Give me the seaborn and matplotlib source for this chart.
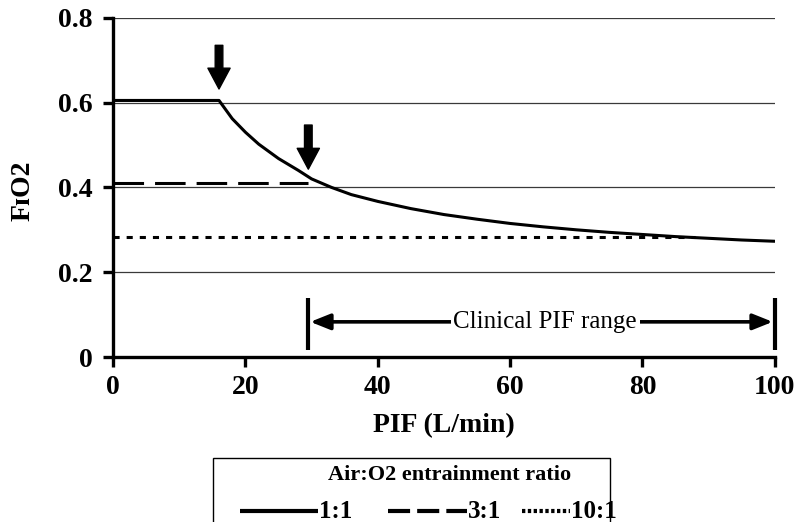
import matplotlib
matplotlib.use("Agg")
import matplotlib.pyplot as plt
from matplotlib.patches import Rectangle
from matplotlib.lines import Line2D
import seaborn as sns

# --- data ---
pif_1to1 = [0, 16, 18, 20, 22, 25, 28, 30, 33, 36, 40, 45, 50, 55, 60, 65, 70, 75, 80, 85, 90, 95, 100]
fio2_1to1 = [0.605, 0.605, 0.562, 0.530, 0.502, 0.468, 0.440, 0.420, 0.400, 0.383, 0.367, 0.350, 0.336, 0.325, 0.315, 0.307, 0.300, 0.294, 0.289, 0.284, 0.280, 0.276, 0.273]
pif_3to1 = [0, 29.5]
fio2_3to1 = [0.41, 0.41]
pif_10to1 = [0, 88]
fio2_10to1 = [0.282, 0.282]
series_labels = ["1:1", "3:1", "10:1"]

arrow_x = [16, 29.5]
arrow_top = [0.735, 0.547]
arrow_bottom = [0.632, 0.443]
clinical_range = [29.5, 100]

sns.set_theme(style="white")
plt.rcParams["font.family"] = ["Liberation Serif", "DejaVu Serif"]
plt.rcParams["text.color"] = "black"
plt.rcParams["axes.labelcolor"] = "black"
plt.rcParams["xtick.color"] = "black"
plt.rcParams["ytick.color"] = "black"

W, H = 797, 522
fig = plt.figure(figsize=(W / 100, H / 100), dpi=100)
ax = fig.add_axes([0.142, 0.316, 0.830, 0.650])

lw = 2.2
sns.lineplot(x=pif_1to1, y=fio2_1to1, ax=ax, color="black", lw=lw, sort=False)
sns.lineplot(x=pif_3to1, y=fio2_3to1, ax=ax, color="black", lw=lw, linestyle=(0, (10, 3.6)))
sns.lineplot(x=pif_10to1, y=fio2_10to1, ax=ax, color="black", lw=lw, linestyle=(0, (2, 2.3)))

ax.set_xlim(0, 100)
ax.set_ylim(0, 0.8)
ax.set_xticks([0, 20, 40, 60, 80, 100])
ax.set_yticks([0, 0.2, 0.4, 0.6, 0.8])
ax.set_yticklabels(["0", "0.2", "0.4", "0.6", "0.8"])
for yv in [0.2, 0.4, 0.6, 0.8]:
    ax.axhline(yv, color="#3a3a3a", lw=0.9, zorder=0)

for side in ["top", "right"]:
    ax.spines[side].set_visible(False)
for side in ["left", "bottom"]:
    ax.spines[side].set_color("black")
    ax.spines[side].set_linewidth(2.4)
ax.tick_params(axis="both", direction="out", length=7, width=2.4, color="black",
               labelsize=20, left=True, bottom=True)
ax.tick_params(axis="x", pad=6)
ax.tick_params(axis="y", pad=8)
for t in ax.get_xticklabels() + ax.get_yticklabels():
    t.set_fontweight("bold")

ax.set_xlabel("PIF (L/min)", fontsize=20, fontweight="bold")
ax.xaxis.set_label_coords(0.5, -0.165)
fig.text(23 / W, 1 - 191 / H, "F\u026aO2", fontsize=20, fontweight="bold",
         rotation=90, ha="center", va="center")

# downward arrows marking where the flat parts end
for xa, yt, yb in zip(arrow_x, arrow_top, arrow_bottom):
    ax.annotate("", xy=(xa, yb), xytext=(xa, yt),
                arrowprops=dict(width=5.5, headwidth=16, headlength=15,
                                facecolor="black", edgecolor="black", shrink=0))

# clinical PIF range bracket
for xc in clinical_range:
    ax.plot([xc, xc], [0.016, 0.14], color="black", lw=3, solid_capstyle="butt", clip_on=False)
ax.annotate("", xy=(clinical_range[0] + 0.3, 0.083), xytext=(clinical_range[1] - 0.3, 0.083),
            arrowprops=dict(arrowstyle="<|-|>,head_width=0.4,head_length=1.0",
                            color="black", lw=2.6, shrinkA=0, shrinkB=0))
ax.text(65.3, 0.083, "Clinical PIF range", fontsize=18, ha="center", va="center",
        bbox=dict(facecolor="white", edgecolor="none", pad=2))

# legend box, cut by the lower edge of the figure (drawn by hand for the uneven key lengths)
fig.patches.append(Rectangle((213 / W, -0.05), (610 - 213) / W, 0.05 + 1 - 458 / H,
                             transform=fig.transFigure, facecolor="white",
                             edgecolor="black", lw=1.0))
fig.text(450 / W, 1 - 475 / H, "Air:O2 entrainment ratio", fontsize=16, fontweight="bold",
         ha="center", va="center")
row_y = 1 - 511 / H
keys = [
    (240, 318, dict(linestyle="-")),
    (388, 467, dict(linestyle=(0, (5.3, 1.7)))),
    (522, 570, dict(linestyle=(0, (0.8, 0.6)))),
]
for (x0, x1, style), label in zip(keys, series_labels):
    fig.lines.append(Line2D([x0 / W, x1 / W], [row_y, row_y], transform=fig.transFigure,
                            color="black", lw=3, solid_capstyle="butt", dash_capstyle="butt", **style))
    fig.text((x1 + 1) / W, row_y, label, fontsize=18, fontweight="bold", ha="left", va="center")

fig.savefig("out.png", dpi=100)
